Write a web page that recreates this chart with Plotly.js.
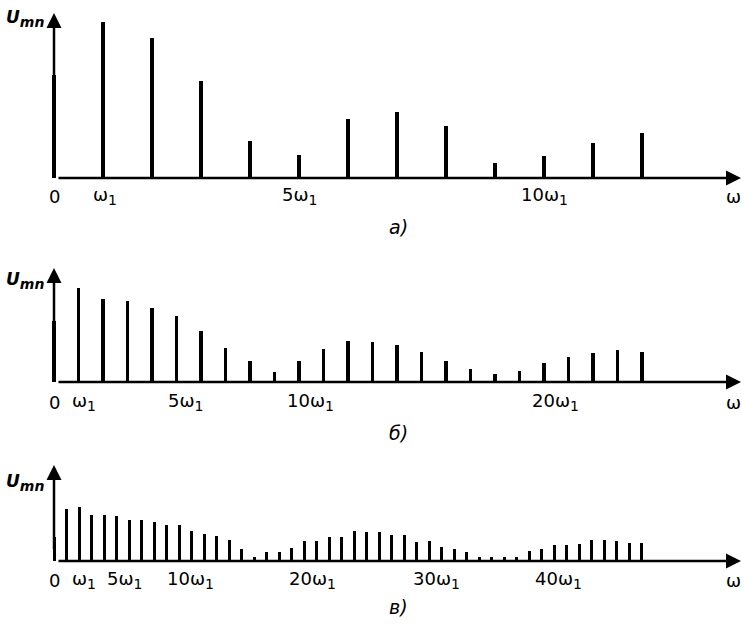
<!DOCTYPE html>
<html>
<head>
<meta charset="utf-8">
<script src="https://cdn.plot.ly/plotly-3.0.1.min.js"></script>
<style>html,body{margin:0;padding:0;background:#fff;}#chart{width:742px;height:626px;}</style>
</head>
<body>
<div id="chart"></div>
<script>
// ---- data (amplitudes of harmonics, relative units) ----
const ampA = [103,156,140,97,37,23,59,66,52,15,22,35,45];
const ampB = [61,94,83,81,74,66,51,34,21,10,21,33,41,40,37,30,21,13,8,11,19,25,29,32,30];
const ampC = [24,52,54,46,46,45,41,41,39,36,36,30,27,25,21,12,4,9,9,13,20,20,24,24,30,29,29,26,26,19,20,14,12,9,4,4,4,4,10,12,16,16,17,21,21,20,18,18];

const SUB1 = '<sub><span style="font-size:14px">1</span></sub>';
const tickPosA = [0,1,5,10];
const tickTxtA = ['0','ω'+SUB1,'5ω'+SUB1,'10ω'+SUB1];
const tickPosB = [0,1,5,10,20];
const tickTxtB = ['0','ω'+SUB1,'5ω'+SUB1,'10ω'+SUB1,'20ω'+SUB1];
const tickPosC = [0,1,5,10,20,30,40];
const tickTxtC = ['0','ω'+SUB1,'5ω'+SUB1,'10ω'+SUB1,'20ω'+SUB1,'30ω'+SUB1,'40ω'+SUB1];
const panelNames = ['а)','б)','в)'];
const yName = '<b><i>U<sub><span style="font-size:14px">mn</span></sub></i></b>';
const xName = 'ω';

// ---- layout geometry ----
const W = 742, H = 626, X0 = 54, XEND = 741;
const panels = [
  {amp: ampA, ticks: tickPosA, txt: tickTxtA, step: 49,   barW: 4,   base: 178, top: 10,  tip: 13,  lblY: 196, lblShift: [0,2,0,0], umnY: 18, nameY: 227},
  {amp: ampB, ticks: tickPosB, txt: tickTxtB, step: 24.5, barW: 3.3, base: 382, top: 262, tip: 268, lblY: 402, lblShift: [0,5,9,11,11], umnY: 280, nameY: 433},
  {amp: ampC, ticks: tickPosC, txt: tickTxtC, step: 12.5, barW: 3,   base: 561, top: 460, tip: 465, lblY: 580, lblShift: [0,17,8,11,8,7,4], umnY: 482, nameY: 607}
];

const font = {family: 'DejaVu Sans, Verdana, sans-serif', size: 18, color: '#000'};
const traces = [];
const layout = {
  width: W, height: H, margin: {l:0, r:0, t:0, b:0},
  paper_bgcolor: '#fff', plot_bgcolor: 'rgba(0,0,0,0)',
  showlegend: false, bargap: 0, barmode: 'overlay',
  annotations: [], font: font
};

panels.forEach((p, i) => {
  const k = i === 0 ? '' : String(i + 1);
  const xa = 'x' + k, ya = 'y' + k;
  const xr = [-X0 / p.step, (W - X0) / p.step];
  const yr = [0, p.base - p.top];
  layout['xaxis' + k] = {domain: [0,1], range: xr, visible: false, fixedrange: true, anchor: ya};
  layout['yaxis' + k] = {domain: [1 - p.base / H, 1 - p.top / H], range: yr, visible: false, fixedrange: true, anchor: xa};
  traces.push({
    type: 'bar', x: p.amp.map((v, n) => n), y: p.amp, width: p.barW / p.step,
    marker: {color: '#000', line: {width: 0}}, xaxis: xa, yaxis: ya, hoverinfo: 'skip'
  });
  // axes with arrows
  const xEndData = (XEND - X0) / p.step;
  layout.annotations.push({xref: xa, yref: ya, axref: xa, ayref: ya, x: xEndData, y: 0, ax: 0, ay: 0,
    text: ' ', showarrow: true, arrowhead: 2, arrowsize: 1.2, arrowwidth: 2.5, arrowcolor: '#000'});
  layout.annotations.push({xref: xa, yref: ya, axref: xa, ayref: ya, x: 0, y: p.base - p.tip, ax: 0, ay: 0,
    text: ' ', showarrow: true, arrowhead: 2, arrowsize: 1.2, arrowwidth: 2.5, arrowcolor: '#000'});
  // tick labels
  p.ticks.forEach((t, j) => {
    layout.annotations.push({xref: xa, yref: 'paper', x: t, y: 1 - p.lblY / H, xshift: p.lblShift[j],
      text: p.txt[j], showarrow: false, xanchor: 'center', yanchor: 'middle', font: font});
  });
  layout.annotations.push({xref: 'paper', yref: 'paper', x: 733 / W, y: 1 - p.lblY / H,
    text: xName, showarrow: false, xanchor: 'center', yanchor: 'middle', font: font});
  layout.annotations.push({xref: 'paper', yref: 'paper', x: 25 / W, y: 1 - p.umnY / H,
    text: yName, showarrow: false, xanchor: 'center', yanchor: 'middle', font: {family: font.family, size: 17, color: '#000'}});
  layout.annotations.push({xref: 'paper', yref: 'paper', x: 398 / W, y: 1 - p.nameY / H,
    text: '<i>' + panelNames[i] + '</i>', showarrow: false, xanchor: 'center', yanchor: 'middle', font: {family: font.family, size: 19, color: '#000'}});
});

Plotly.newPlot('chart', traces, layout, {displayModeBar: false});
</script>
</body>
</html>
